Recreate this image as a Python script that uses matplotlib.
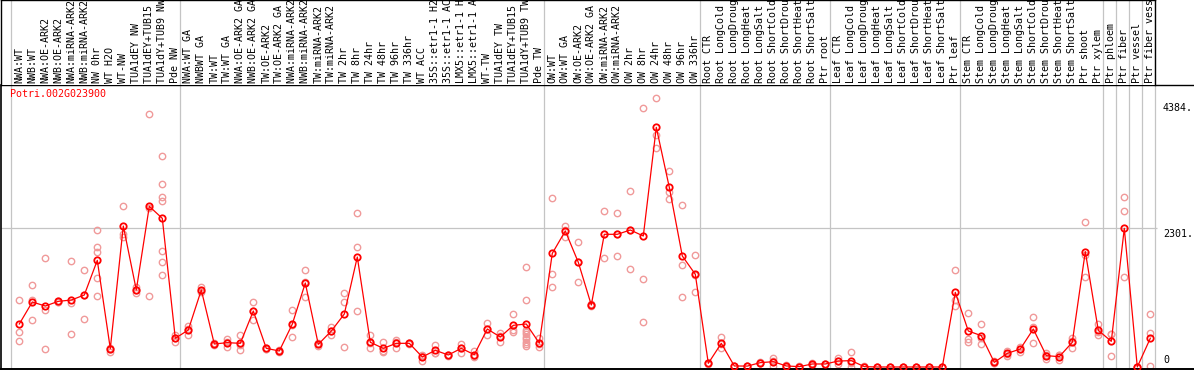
import matplotlib
matplotlib.use("Agg")
import matplotlib.pyplot as plt

# sample labels, one per column
labels = [
    "NWA:WT", "NWB:WT", "NWA:OE-ARK2", "NWB:OE-ARK2", "NWA:miRNA-ARK2",
    "NWB:miRNA-ARK2", "NW 0hr", "WT H2O", "WT-NW", "TUA1dEY NW",
    "TUA1dEY+TUB15 NW", "TUA1dY+TUB9 NW", "Pde NW", "NWA:WT GA", "NWBWT GA",
    "TW:WT", "TW:WT GA", "NWA:OE-ARK2 GA", "NWB:OE-ARK2 GA", "TW:OE-ARK2",
    "TW:OE-ARK2 GA", "NWA:miRNA-ARK2 GA", "NWB:miRNA-ARK2 GA", "TW:miRNA-ARK2",
    "TW:miRNA-ARK2 GA", "TW 2hr", "TW 8hr", "TW 24hr", "TW 48hr", "TW 96hr",
    "TW 336hr", "WT ACC", "35S::etr1-1 H2O", "35S::etr1-1 ACC",
    "LMX5::etr1-1 H2O", "LMX5::etr1-1 ACC", "WT-TW", "TUA1dEY TW",
    "TUA1dEY+TUB15 TW", "TUA1dY+TUB9 TW", "Pde TW", "OW:WT", "OW:WT GA",
    "OW:OE-ARK2", "OW:OE-ARK2 GA", "OW:miRNA-ARK2", "OW:miRNA-ARK2 GA",
    "OW 2hr", "OW 8hr", "OW 24hr", "OW 48hr", "OW 96hr", "OW 336hr",
    "Root CTR", "Root LongCold", "Root LongDrought", "Root LongHeat",
    "Root LongSalt", "Root ShortCold", "Root ShortDrought", "Root ShortHeat",
    "Root ShortSalt", "Ptr root", "Leaf CTR", "Leaf LongCold",
    "Leaf LongDrought", "Leaf LongHeat", "Leaf LongSalt", "Leaf ShortCold",
    "Leaf ShortDrought", "Leaf ShortHeat", "Leaf ShortSalt", "Ptr leaf",
    "Stem CTR", "Stem LongCold", "Stem LongDrought", "Stem LongHeat",
    "Stem LongSalt", "Stem ShortCold", "Stem ShortDrought", "Stem ShortHeat",
    "Stem ShortSalt", "Ptr shoot", "Ptr xylem", "Ptr phloem", "Ptr fiber",
    "Ptr vessel", "Ptr fiber vessel",
]

# mean expression per sample
means = [
    712, 1076, 1010, 1087, 1109, 1192, 1766, 304, 2334, 1275,
    2660, 2461, 475, 613, 1275, 381, 403, 392, 927, 309,
    265, 710, 1391, 375, 596, 877, 1821, 409, 309, 392,
    392, 166, 276, 199, 309, 204, 629, 497, 690, 712,
    395, 1882, 2252, 1733, 1026, 2197, 2197, 2268, 2169, 3968,
    2975, 1838, 1535, 61, 392, 17, 15, 72, 88, 17,
    6, 50, 50, 99, 105, 6, 0, 0, 0, 0,
    0, 0, 1236, 596, 519, 77, 226, 298, 629, 188,
    171, 409, 1910, 607, 425, 2296, 0, 475,
]

# replicate values per sample
reps = [
    [1109, 574, 425], [1358, 1109, 778], [1805, 944, 298], [1100, 1080, 1080],
    [1750, 1054, 541], [1601, 1192, 795], [2268, 1992, 1910, 1468, 1175],
    [320, 300, 254], [2660, 2202, 2158], [1330, 1275, 1220],
    [4189, 2627, 1175], [3493, 3024, 2820, 2743, 1915, 1733, 1523],
    [530, 475, 409], [679, 630, 530], [1319, 1260, 1245], [395, 380, 370],
    [458, 410, 337], [530, 365, 281], [1076, 927, 778], [320, 305, 300],
    [280, 265, 250], [944, 690, 502], [1601, 1410, 1154], [400, 385, 340],
    [657, 600, 530], [1230, 1076, 331], [2544, 1981, 927], [524, 400, 309],
    [409, 270, 254], [447, 410, 320], [400, 392, 385], [200, 190, 105],
    [364, 240, 226], [205, 199, 190], [381, 309, 237], [265, 180, 170],
    [728, 629, 530], [557, 510, 420], [877, 613, 580],
    [1650, 1109, 620, 580, 540, 500, 460, 420, 380, 340],
    [475, 380, 326], [2798, 1535, 1319], [2334, 2260, 2158],
    [2064, 1733, 1402], [1040, 1026, 1010], [2583, 2200, 1800],
    [2544, 2210, 1838], [2914, 2270, 1618], [4288, 1452, 740],
    [4448, 3841, 3620], [3238, 2903, 2776], [2677, 1684, 1154],
    [1849, 1520, 1236], [70, 60, 50], [491, 380, 309], [20, 17, 15],
    [18, 15, 12], [80, 72, 65], [143, 100, 22], [40, 10, 0], [10, 6, 2],
    [60, 50, 40], [55, 50, 45], [143, 100, 50], [248, 60, 6], [10, 6, 2],
    [0, 0, 0], [0, 0, 0], [0, 0, 0], [0, 0, 0], [0, 0, 0], [0, 0, 0],
    [1601, 1109, 1010], [889, 458, 409], [706, 480, 375], [105, 70, 60],
    [270, 220, 190], [337, 300, 254], [822, 670, 392], [226, 200, 138],
    [199, 200, 116], [475, 430, 320], [2395, 1850, 1484], [706, 585, 530],
    [546, 540, 188], [2809, 2578, 1484], [0, 0, 0], [877, 563, 12],
]

# last sample index of each group (-1 = left edge)
group_ends = [-1, 12, 40, 52, 62, 72, 83, 84, 85, 86, 87]
ytick_vals = [4384, 2301, 0]
ytick_text = ["4384.", "2301.", "0"]
gene = "Potri.002G023900"

W, H = 1194, 370
FONT = "DejaVu Sans Mono"
FS = 7.2
GRID = "#c4c4c4"

fig = plt.figure(figsize=(W / 100, H / 100), dpi=100)

# main plot area
ax = fig.add_axes([1 / W, (H - 369) / H, (W - 1) / W, (369 - 85) / H])
x0 = (1 - 19.3) / 13
ax.set_xlim(x0, (W - 19.3) / 13)
ax.set_ylim(-2 / 0.0604, 282 / 0.0604)
ax.set_xticks([])
ax.set_yticks([])
for s in ["left", "bottom", "top"]:
    ax.spines[s].set_color("black")
ax.spines["left"].set_linewidth(1.2)
ax.spines["bottom"].set_linewidth(1.4)
ax.spines["top"].set_linewidth(1.0)
ax.spines["right"].set_visible(False)

for k in group_ends:
    ax.axvline(k + 0.37, color=GRID, lw=0.9, zorder=0)
ax.plot([x0, 87.55], [2301, 2301], color=GRID, lw=0.9, zorder=0,
        solid_capstyle="butt")

rep_x = [i for i, r in enumerate(reps) for _ in r]
rep_y = [v for r in reps for v in r]
ax.plot(rep_x, rep_y, ls="none", marker="o", ms=4.6, mfc="none",
        mec="#f09a9a", mew=1.0, zorder=2, clip_on=False)
ax.plot(range(len(means)), means, color="#ff0000", lw=0.9, marker="o",
        ms=4.6, mfc="none", mec="#ff0000", mew=1.3, zorder=3, clip_on=False)

xr = (1163 - 19.3) / 13
for v, t in zip(ytick_vals, ytick_text):
    if v == 0:
        ax.text(xr, v + 30, t, ha="left", va="bottom", family=FONT,
                fontsize=FS, color="black")
    else:
        ax.text(xr, v - 15, t, ha="left", va="top", family=FONT,
                fontsize=FS, color="black")

ax.text(9 / (W - 1), 1 - 4 / 284, gene, transform=ax.transAxes, ha="left",
        va="top", family=FONT, fontsize=FS, color="#ff0000")

# label strip on top
lab = fig.add_axes([1 / W, (H - 85) / H, 1154 / W, 85 / H])
lab.set_xlim(x0, (1155 - 19.3) / 13)
lab.set_ylim(0, 85)
lab.set_xticks([])
lab.set_yticks([])
lab.spines["bottom"].set_visible(False)
for s in ["left", "top", "right"]:
    lab.spines[s].set_color("black")
    lab.spines[s].set_linewidth(1.0)
for k in group_ends:
    lab.axvline(k + 0.37, color=GRID, lw=0.9, zorder=0)
for i, t in enumerate(labels):
    lab.text(i, 2, t, rotation=90, ha="center", va="bottom", family=FONT,
             fontsize=FS, color="black", clip_on=True)

fig.savefig("out.png", dpi=100)
